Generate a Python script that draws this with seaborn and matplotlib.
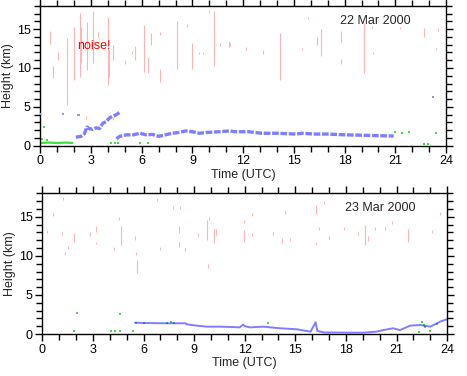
import numpy as np
import pandas as pd
import matplotlib
matplotlib.use("Agg")
import matplotlib.pyplot as plt
import seaborn as sns

sns.set_theme(style="white")
plt.rcParams.update({
    'font.family': ['Liberation Sans', 'DejaVu Sans'],
    'font.size': 9,
    'axes.edgecolor': 'black',
    'axes.linewidth': 1.0,
})

# ---- 22 Mar 2000 ----
# red noise streaks: time (h), bottom (km), top (km)
red1_t = [0.57, 0.76, 1.06, 1.59, 2.0, 2.35, 2.41, 2.76, 3.12, 3.4, 4.0, 4.06, 4.3, 4.98, 5.4,
          5.6, 6.12, 6.35, 6.57, 7.06, 7.1, 8.06, 8.7, 9.0, 9.4, 9.63, 10.0, 10.3, 10.6, 11.2,
          11.16, 12.14, 13.18, 14.2, 15.5, 15.86, 16.35, 16.6, 17.8, 17.8, 19.12, 19.6, 19.7,
          21.3, 22.7, 23.4, 23.5, 2.7, 4.3]
red1_lo = [13.1, 8.7, 11.0, 5.3, 8.4, 8.9, 10.6, 9.7, 10.6, 14.0, 7.8, 8.8, 11.0, 10.5, 11.8,
           11.0, 9.5, 9.3, 13.0, 8.2, 14.3, 9.9, 15.3, 9.9, 11.8, 11.8, 17.1, 10.3, 12.8, 12.8,
           12.7, 12.3, 11.8, 8.4, 12.3, 16.3, 13.0, 11.5, 13.3, 10.5, 9.4, 15.1, 11.8,
           15.0, 14.0, 12.3, 14.8, 3.4, 3.3]
red1_hi = [14.8, 10.2, 12.0, 13.9, 15.3, 17.1, 15.3, 15.9, 17.3, 14.6, 16.6, 12.3, 13.0, 11.0, 12.2,
           12.8, 15.5, 11.4, 14.5, 9.9, 14.6, 16.0, 15.6, 13.2, 12.1, 12.1, 17.4, 17.3, 13.2, 13.2,
           13.5, 12.7, 12.3, 14.5, 12.6, 16.6, 14.0, 15.0, 14.8, 11.2, 15.8, 15.4, 12.1,
           15.3, 15.1, 12.6, 15.1, 3.8, 3.7]

# blue cloud-base band
blue1a_t = [2.1, 2.4, 2.6, 2.75, 2.9, 3.1, 3.3, 3.5, 3.7, 3.9, 4.1, 4.3, 4.5, 4.7]
blue1a_h = [1.1, 1.2, 1.5, 2.4, 2.2, 2.1, 2.3, 2.2, 2.9, 3.1, 3.6, 3.8, 4.0, 4.3]
blue1b_t = [4.5, 4.7, 5.1, 5.5, 5.9, 6.25, 6.65, 7.0, 7.4, 7.8, 8.2, 8.6, 9.0, 9.4, 9.8,
            10.2, 10.6, 11.2, 11.5, 12.3, 13.1, 14.0, 15.1, 15.5, 16.2, 17.0, 18.0, 19.0,
            19.8, 20.9]
blue1b_h = [0.9, 1.2, 1.4, 1.4, 1.6, 1.4, 1.45, 1.2, 1.4, 1.6, 1.7, 1.9, 1.8, 1.6, 1.7,
            1.75, 1.8, 1.9, 1.8, 1.8, 1.6, 1.6, 1.5, 1.6, 1.5, 1.5, 1.4, 1.35,
            1.3, 1.25]
blue1_dot_t = [0.0, 1.35, 2.2, 2.3, 23.2]
blue1_dot_h = [4.1, 4.1, 4.0, 4.0, 6.3]

# green near-ground strip and scattered green returns
green1_strip_t = [0.0, 0.5, 1.0, 1.5, 1.9]
green1_strip_h = [0.35, 0.4, 0.35, 0.4, 0.35]
green1_t = [0.1, 0.4, 0.2, 4.2, 4.4, 4.6, 5.9, 6.35, 21.0, 21.4, 21.8, 22.7, 22.9, 23.4]
green1_h = [0.8, 0.7, 2.4, 0.4, 0.3, 0.4, 0.4, 0.3, 1.7, 1.6, 1.7, 0.2, 0.2, 1.6]

# ---- 23 Mar 2000 ----
red2_t = [0.26, 0.65, 1.15, 1.25, 1.34, 1.54, 1.88, 2.83, 3.2, 3.2, 4.27, 4.57, 4.64, 5.5,
          5.55, 5.6, 6.8, 6.98, 7.77, 8.1, 8.1, 8.16, 8.46, 9.2, 9.75, 9.84, 9.9, 10.2, 10.3,
          11.98, 11.98, 12.4, 12.4, 13.7, 14.2, 14.4, 14.7, 16.25, 16.2, 16.4, 16.7, 17.0,
          17.9, 18.7, 19.1, 19.3, 19.7, 20.3, 20.7, 21.7, 23.1, 23.6]
red2_lo = [12.9, 15.1, 12.7, 17.2, 10.1, 10.9, 11.8, 12.6, 13.1, 11.5, 10.8, 14.6, 11.4, 12.0,
           10.1, 7.8, 17.0, 10.8, 16.0, 12.9, 11.2, 16.0, 10.6, 12.5, 12.0, 8.5, 14.6, 11.6, 12.7,
           14.2, 11.8, 15.1, 12.5, 12.7, 11.6, 15.3, 11.9, 15.3, 11.4, 13.3, 16.6, 12.1,
           13.3, 12.7, 11.4, 11.9, 13.3, 13.3, 14.1, 11.8, 12.9, 15.2]
red2_hi = [13.3, 15.5, 13.1, 17.6, 10.5, 11.3, 12.9, 13.0, 13.8, 11.8, 11.2, 15.0, 13.8, 12.5,
           10.5, 9.5, 17.4, 11.1, 16.4, 13.8, 11.8, 16.4, 11.0, 12.9, 14.6, 8.9, 15.0, 13.5, 13.5,
           14.6, 13.3, 15.5, 12.9, 13.1, 12.3, 15.7, 12.3, 16.5, 11.8, 13.7, 17.0, 12.5,
           13.7, 13.1, 14.0, 12.5, 13.7, 13.7, 14.5, 13.5, 13.3, 15.6]

blue2_t = [5.5, 6.2, 7.4, 7.8, 8.5, 8.55, 9.15, 9.75, 10.5, 11.1, 11.7, 11.9, 12.0, 12.3,
           13.1, 14.1, 15.1, 15.9, 16.2, 16.3, 16.7, 18.1, 19.0, 19.8, 20.2, 20.8, 21.2, 21.8,
           22.4, 23.0, 23.6, 24.0]
blue2_h = [1.45, 1.4, 1.37, 1.37, 1.37, 1.24, 1.07, 0.94, 0.94, 0.9, 0.85, 1.2, 1.0, 0.85,
           0.94, 0.73, 0.6, 0.3, 1.5, 0.4, 0.2, 0.17, 0.17, 0.3, 0.5, 0.73, 0.5, 1.07,
           1.15, 0.94, 1.6, 1.9]

green2_t = [1.9, 2.07, 4.1, 4.3, 4.6, 4.6, 5.4, 5.55, 6.0, 7.4, 7.6, 7.8, 13.4, 22.3, 22.5,
            22.7, 23.0, 23.4, 22.6]
green2_h = [0.4, 2.65, 0.4, 0.4, 0.4, 2.5, 0.35, 1.45, 1.45, 1.45, 1.5, 1.45, 1.4, 0.3, 1.5,
            0.9, 0.4, 1.3, 1.2]


def draw_panel(ax, red_t, red_lo, red_hi, blue_segs, blue_dots, green_t, green_h, date,
               lw_blue, blue_dash):
    ax.vlines(red_t, red_lo, red_hi, colors="#ffb4b4", linewidth=0.8, zorder=1)
    for seg_t, seg_h in blue_segs:
        df = pd.DataFrame({"t": seg_t, "h": seg_h})
        sns.lineplot(data=df, x="t", y="h", ax=ax, color="#2828ff", linewidth=lw_blue,
                     alpha=0.6, estimator=None, sort=False, zorder=3, linestyle=blue_dash)
    if blue_dots is not None:
        sns.scatterplot(x=blue_dots[0], y=blue_dots[1], ax=ax, color="#9090ff", marker="s",
                        s=2, linewidth=0, zorder=3)
    sns.scatterplot(x=green_t, y=green_h, ax=ax, color="#40e040", marker="s", s=2,
                    linewidth=0, zorder=2)
    ax.set_xlim(0, 24)
    ax.set_ylim(0, 18)
    ax.set_xticks(np.arange(0, 25, 3))
    ax.set_xticks(np.arange(0, 25, 1), minor=True)
    ax.set_yticks([0, 5, 10, 15])
    ax.set_yticks(np.arange(0, 19, 1), minor=True)
    ax.tick_params(which="both", direction="out", top=True, right=True, bottom=True, left=True,
                   colors="black", labelsize=9, pad=2)
    ax.tick_params(which="major", length=5, width=1)
    ax.tick_params(which="minor", length=4, width=1)
    ax.set_xlabel("Time (UTC)", fontsize=9, labelpad=1, loc="center")
    ax.set_ylabel("Height (km)", fontsize=9, labelpad=2)
    ax.text(17.7, 16.0, date, fontsize=9, va="center", ha="left")
    ax.grid(False)
    for sp in ax.spines.values():
        sp.set_color("black")
        sp.set_linewidth(1.0)


fig = plt.figure(figsize=(4.67, 3.76), dpi=100)
ax1 = fig.add_axes([0.0863, 0.6125, 0.869, 0.372])
ax2 = fig.add_axes([0.0906, 0.1117, 0.867, 0.374])

draw_panel(ax1, red1_t, red1_lo, red1_hi,
           [(blue1a_t, blue1a_h), (blue1b_t, blue1b_h)], (blue1_dot_t, blue1_dot_h),
           green1_t, green1_h, "22 Mar 2000", 2.4, (0, (2.0, 0.5)))
sns.lineplot(x=green1_strip_t, y=green1_strip_h, ax=ax1, color="#40e040", linewidth=1.6,
             estimator=None, sort=False, zorder=2)
ax1.text(2.15, 12.8, "noise!", color="red", fontsize=9, va="center", ha="left")

draw_panel(ax2, red2_t, red2_lo, red2_hi, [(blue2_t, blue2_h)], None,
           green2_t, green2_h, "23 Mar 2000", 1.4, "-")
ax2.texts[-1].set_position((17.96, 16.1))

fig.savefig("out.png", dpi=100)
